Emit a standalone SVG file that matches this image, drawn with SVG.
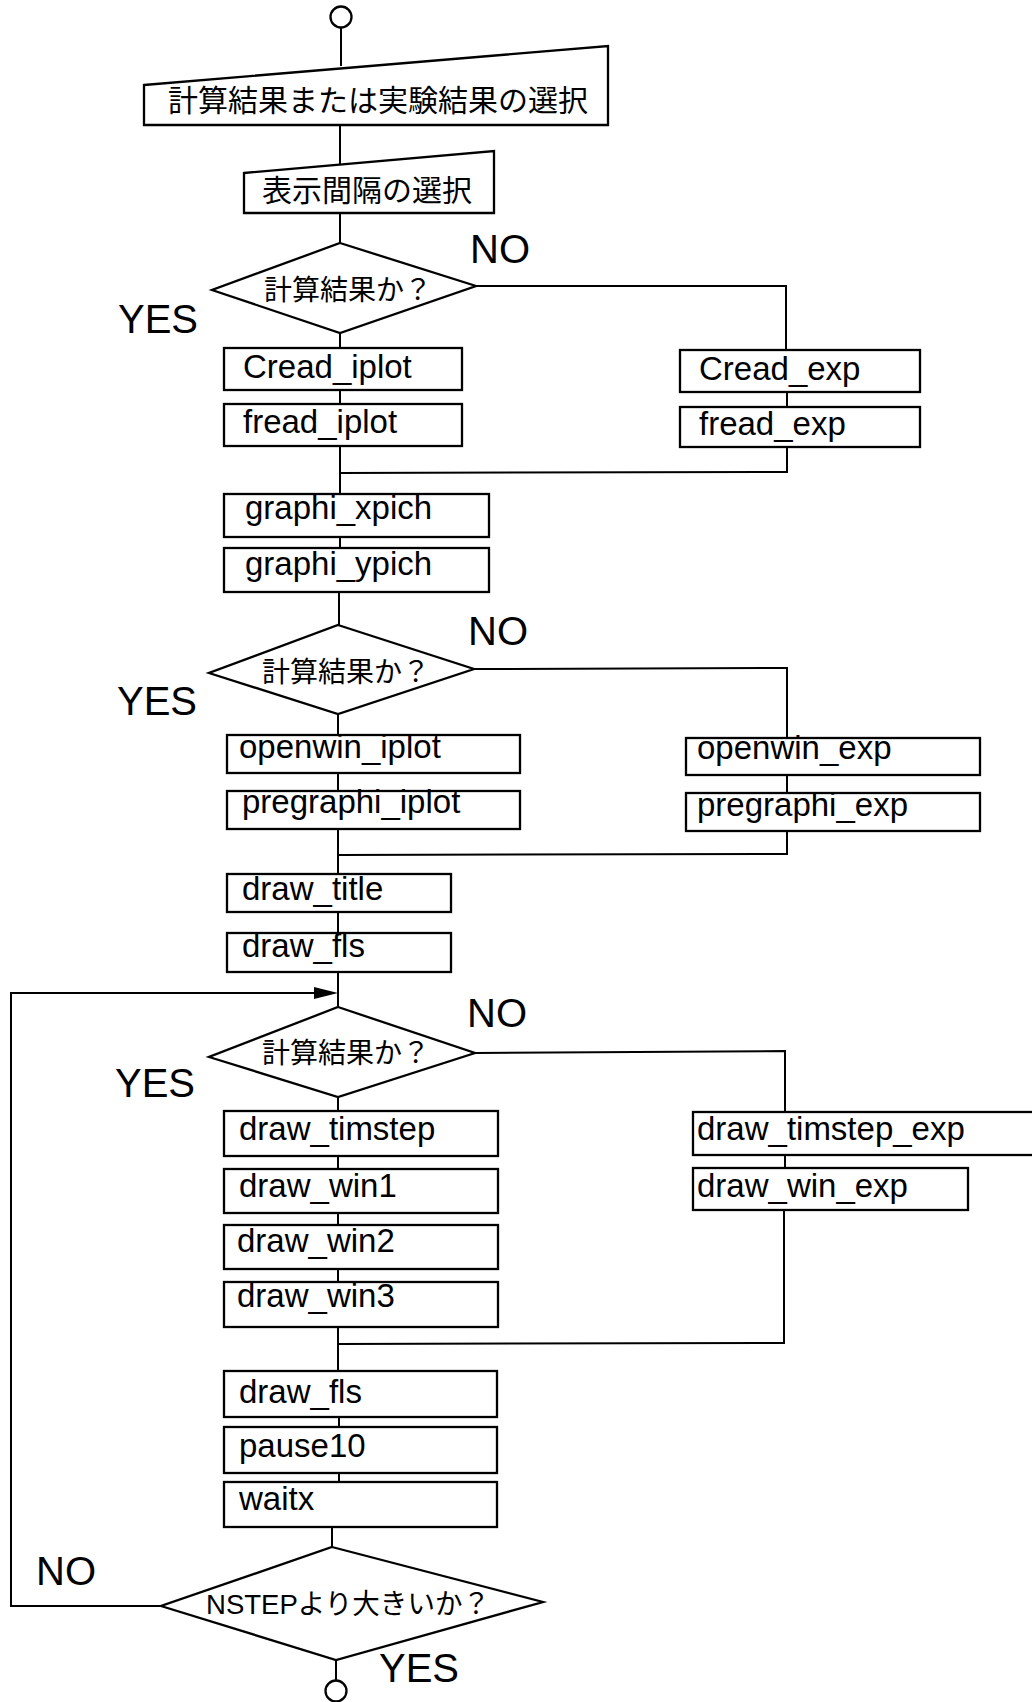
<svg xmlns="http://www.w3.org/2000/svg" width="1032" height="1702" viewBox="0 0 1032 1702">
<defs>
<style>
.s{fill:#fff;stroke:#000;stroke-width:2.3}
.c{fill:none;stroke:#000;stroke-width:2}
.t{font-family:"Liberation Sans",Arial,sans-serif;font-size:33px;fill:#000}
.j{font-family:"Noto Sans CJK JP","Noto Sans",sans-serif;fill:#000}
.l{font-family:"Liberation Sans",Arial,sans-serif;font-size:40px;fill:#000}
</style>
</defs>
<rect width="1032" height="1702" fill="#fff"/>
<g id="connectors">
<path class="c" d="M341,27 V66"/>
<path class="c" d="M340,125 V165"/>
<path class="c" d="M340,213 V243"/>
<path class="c" d="M340,333 V348"/>
<path class="c" d="M340,390 V404"/>
<path class="c" d="M340,446 V494"/>
<path class="c" d="M476,286 H786 V350"/>
<path class="c" d="M787,392 V407"/>
<path class="c" d="M787,447 V472 L340,473"/>
<path class="c" d="M340,537 V548"/>
<path class="c" d="M339,592 V625"/>
<path class="c" d="M338,714 V735"/>
<path class="c" d="M338,773 V791"/>
<path class="c" d="M474,669 L787,668 V738"/>
<path class="c" d="M787,775 V793"/>
<path class="c" d="M787,831 V854 L338,855"/>
<path class="c" d="M338,829 V874"/>
<path class="c" d="M338,912 V933"/>
<path class="c" d="M338,972 V1007"/>
<path class="c" d="M161,1606 H11 V993 H318"/>
<polygon points="314,987 338,993 314,999" fill="#000"/>
<path class="c" d="M338,1097 V1111"/>
<path class="c" d="M338,1156 V1169"/>
<path class="c" d="M338,1213 V1225"/>
<path class="c" d="M338,1269 V1282"/>
<path class="c" d="M338,1327 V1371"/>
<path class="c" d="M475,1053 L785,1051 V1112"/>
<path class="c" d="M785,1156 V1168"/>
<path class="c" d="M784,1210 V1343 L338,1344"/>
<path class="c" d="M339,1417 V1427"/>
<path class="c" d="M339,1473 V1482"/>
<path class="c" d="M332,1527 V1547"/>
<path class="c" d="M336,1660 V1680"/>
</g>
<g id="start"><circle class="s" cx="341" cy="17" r="10.5"/></g>
<g id="select-result">
<polygon class="s" points="144,85 608,46 608,125 144,125"/>
<text class="j" x="168" y="111" font-size="30">計算結果または実験結果の選択</text>
</g>
<g id="select-interval">
<polygon class="s" points="244,173 494,151 494,213 244,213"/>
<text class="j" x="262" y="201" font-size="30">表示間隔の選択</text>
</g>
<g id="decision1">
<polygon class="s" points="340,243 476,286 340,333 212,290"/>
<text class="j" x="264" y="300" font-size="28">計算結果か？</text>
</g>
<text class="l" x="470" y="263">NO</text>
<text class="l" x="118" y="333">YES</text>
<g id="cread-iplot"><rect class="s" x="224" y="348" width="238" height="42"/><text class="t" x="243" y="378">Cread_iplot</text></g>
<g id="fread-iplot"><rect class="s" x="224" y="404" width="238" height="42"/><text class="t" x="243" y="433">fread_iplot</text></g>
<g id="cread-exp"><rect class="s" x="680" y="350" width="240" height="42"/><text class="t" x="699" y="380">Cread_exp</text></g>
<g id="fread-exp"><rect class="s" x="680" y="407" width="240" height="40"/><text class="t" x="699" y="435">fread_exp</text></g>
<g id="graphi-xpich"><rect class="s" x="224" y="494" width="265" height="43"/><text class="t" x="245" y="519">graphi_xpich</text></g>
<g id="graphi-ypich"><rect class="s" x="224" y="548" width="265" height="44"/><text class="t" x="245" y="575">graphi_ypich</text></g>
<g id="decision2">
<polygon class="s" points="338,625 474,669 338,714 209,673"/>
<text class="j" x="262" y="682" font-size="28">計算結果か？</text>
</g>
<text class="l" x="468" y="645">NO</text>
<text class="l" x="117" y="715">YES</text>
<g id="openwin-iplot"><rect class="s" x="227" y="735" width="293" height="38"/><text class="t" x="239" y="758">openwin_iplot</text></g>
<g id="pregraphi-iplot"><rect class="s" x="227" y="791" width="293" height="38"/><text class="t" x="242" y="813">pregraphi_iplot</text></g>
<g id="openwin-exp"><rect class="s" x="686" y="738" width="294" height="37"/><text class="t" x="697" y="759">openwin_exp</text></g>
<g id="pregraphi-exp"><rect class="s" x="686" y="793" width="294" height="38"/><text class="t" x="697" y="816">pregraphi_exp</text></g>
<g id="draw-title"><rect class="s" x="227" y="874" width="224" height="38"/><text class="t" x="242" y="900">draw_title</text></g>
<g id="draw-fls1"><rect class="s" x="227" y="933" width="224" height="39"/><text class="t" x="242" y="957">draw_fls</text></g>
<g id="decision3">
<polygon class="s" points="338,1007 475,1053 338,1097 209,1057"/>
<text class="j" x="262" y="1063" font-size="28">計算結果か？</text>
</g>
<text class="l" x="467" y="1027">NO</text>
<text class="l" x="115" y="1097">YES</text>
<g id="draw-timstep"><rect class="s" x="224" y="1111" width="274" height="45"/><text class="t" x="239" y="1140">draw_timstep</text></g>
<g id="draw-win1"><rect class="s" x="224" y="1169" width="274" height="44"/><text class="t" x="239" y="1197">draw_win1</text></g>
<g id="draw-win2"><rect class="s" x="224" y="1225" width="274" height="44"/><text class="t" x="237" y="1252">draw_win2</text></g>
<g id="draw-win3"><rect class="s" x="224" y="1282" width="274" height="45"/><text class="t" x="237" y="1307">draw_win3</text></g>
<g id="draw-timstep-exp"><rect class="s" x="693" y="1112" width="350" height="43"/><text class="t" x="697" y="1140">draw_timstep_exp</text></g>
<g id="draw-win-exp"><rect class="s" x="693" y="1168" width="275" height="42"/><text class="t" x="697" y="1197">draw_win_exp</text></g>
<g id="draw-fls2"><rect class="s" x="224" y="1371" width="273" height="46"/><text class="t" x="239" y="1403">draw_fls</text></g>
<g id="pause10"><rect class="s" x="224" y="1427" width="273" height="46"/><text class="t" x="239" y="1457">pause10</text></g>
<g id="waitx"><rect class="s" x="224" y="1482" width="273" height="45"/><text class="t" x="239" y="1510">waitx</text></g>
<g id="decision4">
<polygon class="s" points="332,1547 543,1602 336,1660 161,1606"/>
<text x="206" y="1614" font-size="28" font-family="Liberation Sans, Noto Sans CJK JP, sans-serif" textLength="284" lengthAdjust="spacingAndGlyphs">NSTEP<tspan font-family="Noto Sans CJK JP, sans-serif">より大きいか？</tspan></text>
</g>
<text class="l" x="36" y="1585">NO</text>
<text class="l" x="379" y="1682" font-size="41">YES</text>
<g id="end"><circle class="s" cx="336" cy="1691" r="10.5"/></g>
</svg>
